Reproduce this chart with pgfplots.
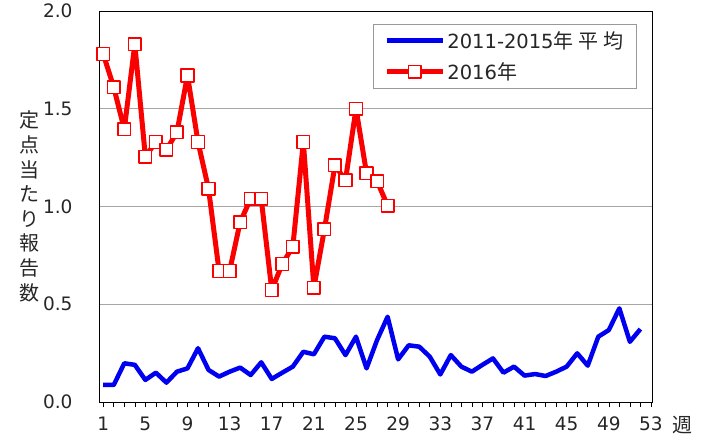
\documentclass[border=0pt]{standalone}
\usepackage{pgfplots}
\pgfplotsset{compat=1.18}
\usepackage{fontspec}
\setmainfont{DejaVu Sans}
\newfontfamily\cjk{Noto Sans CJK JP}
\newfontfamily\cjkls[LetterSpace=25]{Noto Sans CJK JP}
\definecolor{myblue}{RGB}{0,0,240}
\definecolor{myred}{RGB}{250,0,0}
\begin{document}
\begin{tikzpicture}
\useasboundingbox (-99bp,-37bp) rectangle (605bp,402bp);
\begin{axis}[
  scale only axis, width=553bp, height=391bp,
  xmin=0.6, xmax=53.1, ymin=0, ymax=2,
  xtick={1,5,...,53}, minor xtick={1,...,53},
  ytick={0,0.5,1,1.5,2},
  xtick pos=bottom, ytick pos=left,
  tick align=outside,
  major tick length=5bp, minor tick length=5bp,
  ytick style={draw=none},
  every tick/.style={black, line width=0.6bp},
  ymajorgrids, grid style={gray!70, line width=0.8bp},
  axis line style={black, line width=0.8bp},
  /pgf/number format/assume math mode=true,
  yticklabel style={/pgf/number format/.cd, fixed, fixed zerofill, precision=1, /tikz/.cd, xshift=-18bp},
  xticklabel style={yshift=-6bp},
  tick label style={font=\fontsize{18.5bp}{21bp}\selectfont, text=black!85},
  ylabel={定\\点\\当\\た\\り\\報\\告\\数},
  ylabel style={at={(axis description cs:0,0.5)}, anchor=center, rotate=-90, xshift=-69bp, align=center, font=\cjk\fontsize{20bp}{24.6bp}\selectfont, text=black!85},
  xlabel={週},
  xlabel style={at={(axis description cs:1,0)}, anchor=center, xshift=30bp, yshift=-23bp, font=\cjk\fontsize{20bp}{22bp}\selectfont, text=black!85},
  legend style={at={(0.973,0.967)}, anchor=north east, draw=gray!80, line width=0.8bp,
    font=\fontsize{19.5bp}{21bp}\selectfont, text=black!85,
    inner xsep=11bp, inner ysep=5bp, row sep=9bp, cells={anchor=west}},
  legend image code/.code={\draw[mark repeat=2,mark phase=2,#1] plot coordinates {(0bp,0bp) (28bp,0bp) (56bp,0bp)};},
]
\addplot[myblue, line width=4.5bp, line join=round, no marks] coordinates {
(1,0.087) (2,0.087) (3,0.198) (4,0.19) (5,0.113) (6,0.15) (7,0.099) (8,0.155)
(9,0.172) (10,0.275) (11,0.164) (12,0.13) (13,0.155) (14,0.176) (15,0.138) (16,0.203)
(17,0.118) (18,0.15) (19,0.181) (20,0.257) (21,0.244) (22,0.334) (23,0.326) (24,0.24)
(25,0.334) (26,0.172) (27,0.317) (28,0.436) (29,0.218) (30,0.29) (31,0.283) (32,0.232)
(33,0.141) (34,0.24) (35,0.181) (36,0.155) (37,0.19) (38,0.223) (39,0.15) (40,0.181)
(41,0.135) (42,0.143) (43,0.133) (44,0.155) (45,0.181) (46,0.249) (47,0.186) (48,0.334)
(49,0.368) (50,0.479) (51,0.308) (52,0.373)
};
\addlegendentry{2011-2015{\cjkls\fontsize{20bp}{21bp}\selectfont 年平均}}
\addplot[myred, line width=5bp, line join=round, mark=square*, mark size=6.3bp,
  mark options={fill=white, draw=myred, line width=1.5bp}] coordinates {
(1,1.78) (2,1.61) (3,1.395) (4,1.83) (5,1.255) (6,1.33) (7,1.29) (8,1.38)
(9,1.67) (10,1.33) (11,1.09) (12,0.67) (13,0.67) (14,0.92) (15,1.04) (16,1.04)
(17,0.573) (18,0.706) (19,0.794) (20,1.33) (21,0.585) (22,0.883) (23,1.21) (24,1.135)
(25,1.50) (26,1.17) (27,1.13) (28,1.004)
};
\addlegendentry{2016{\cjkls\fontsize{20bp}{21bp}\selectfont 年}}
\end{axis}
\end{tikzpicture}
\end{document}
